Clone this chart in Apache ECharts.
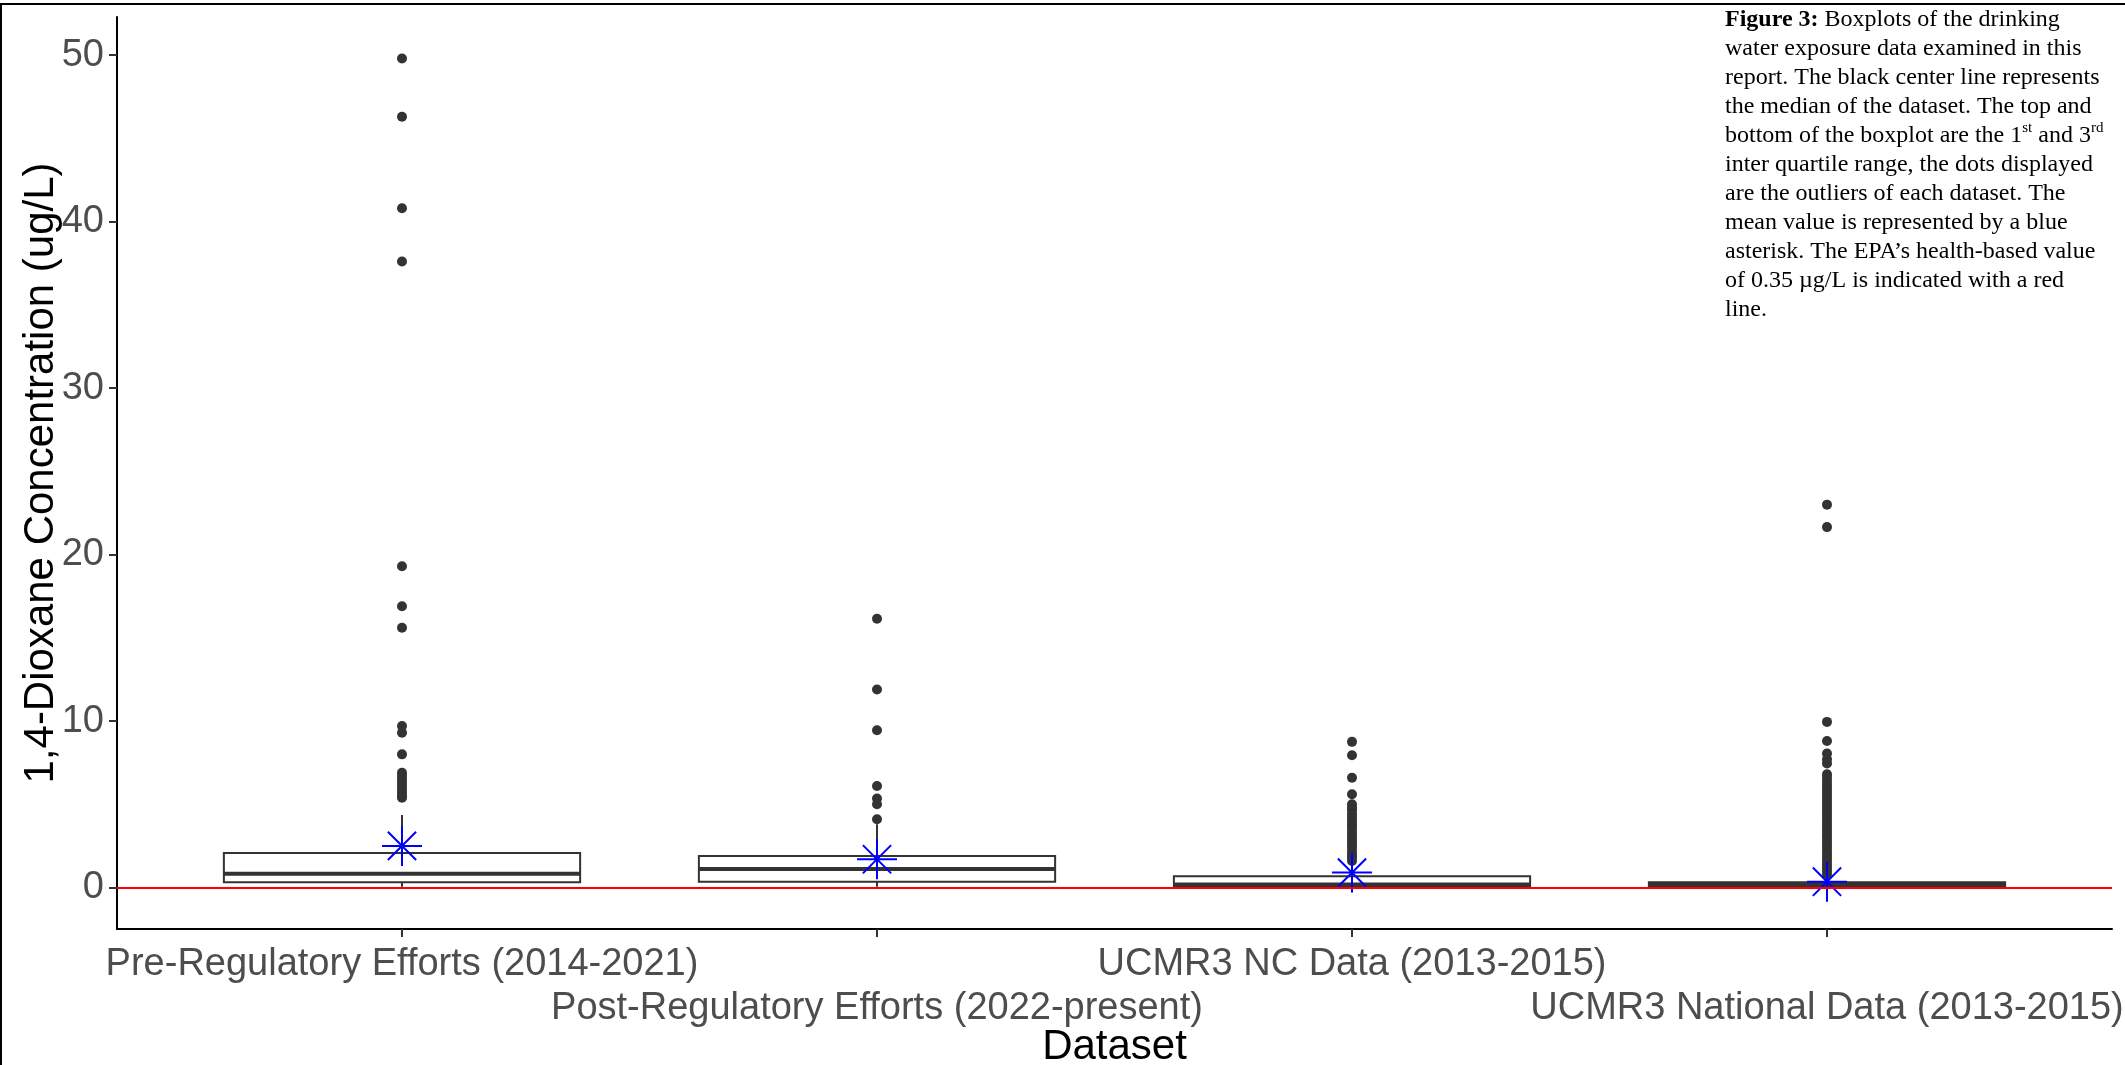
<!DOCTYPE html>
<html>
<head>
<meta charset="utf-8">
<script src="https://cdn.jsdelivr.net/npm/echarts@6/dist/echarts.min.js"></script>
<style>
  html, body { margin: 0; padding: 0; background: #fff; }
  #chart { width: 2125px; height: 1065px; }
</style>
</head>
<body>
<div id="chart"></div>
<script>
// ---------------- data ----------------
const categories = [
  'Pre-Regulatory Efforts (2014-2021)',
  'Post-Regulatory Efforts (2022-present)',
  'UCMR3 NC Data (2013-2015)',
  'UCMR3 National Data (2013-2015)'
];
const categoryPositions = [1, 2, 3, 4];
const firstRowPositions = [1, 3];
const secondRowPositions = [2, 4];
const whiskerLow  = [0.05, 0.05, 0.02, 0.02];
const q1Values    = [0.32, 0.35, 0.08, 0.05];
const medianValues = [0.83, 1.12, 0.18, 0.15];
const q3Values    = [2.07, 1.89, 0.68, 0.32];
const whiskerHigh = [4.35, 3.8, 1.55, 0.7];
const meanValues  = [2.5, 1.7, 0.9, 0.35];

const outliersPre = [49.8, 46.3, 40.8, 37.6, 19.3, 16.9, 15.6, 9.7, 9.3, 8.0,
  6.9, 6.7, 6.5, 6.3, 6.1, 5.9, 5.7, 5.5, 5.4];
const outliersPost = [16.15, 11.9, 9.45, 6.1, 5.35, 5.0, 4.1];
const outliersNC = [8.75, 7.95, 6.6, 5.6, 5.0, 4.8, 4.65, 4.4, 4.2, 4.0, 3.8, 3.62,
  3.4, 3.2, 3.0, 2.8, 2.6, 2.42, 2.2, 2.0, 1.8, 1.6];
const outliersNational = [23.0, 21.65, 9.95, 8.8, 8.05, 7.7, 7.45, 6.8, 6.62, 6.4,
  6.2, 6.0, 5.8, 5.6, 5.4, 5.2, 5.0, 4.8, 4.6, 4.4, 4.2, 4.0, 3.8, 3.6, 3.4, 3.2,
  3.0, 2.8, 2.6, 2.4, 2.2, 2.0, 1.8, 1.6, 1.4, 1.2, 1.0, 0.8];
const outlierGroups = [outliersPre, outliersPost, outliersNC, outliersNational];

const yTickValues = [0, 10, 20, 30, 40, 50];
const redLineValue = 0;

const captionLines = [
  '{b|Figure 3:} Boxplots of the drinking',
  'water exposure data examined in this',
  'report. The black center line represents',
  'the median of the dataset. The top and',
  'bottom of the boxplot are the 1{sup|st} and 3{sup|rd}',
  'inter quartile range, the dots displayed',
  'are the outliers of each dataset. The',
  'mean value is represented by a blue',
  'asterisk. The EPA\u2019s health-based value',
  'of 0.35 \u00b5g/L is indicated with a red',
  'line.'
];

// ---------------- build ----------------
const boxData = categoryPositions.map((x, i) =>
  [x, whiskerLow[i], q1Values[i], medianValues[i], q3Values[i], whiskerHigh[i]]);
const outlierData = [];
outlierGroups.forEach((arr, i) => arr.forEach(v => outlierData.push([categoryPositions[i], v])));
const meanData = categoryPositions.map((x, i) => [x, meanValues[i]]);

const BOX_HALF = 0.375;
const INK = '#333333';
const SANS = '"Liberation Sans", Arial, sans-serif';

function catLabel(v) {
  const i = categoryPositions.indexOf(Math.round(v));
  return i < 0 ? '' : categories[i];
}

function renderBox(params, api) {
  const x = api.value(0);
  const lo = api.value(1), a = api.value(2), m = api.value(3), b = api.value(4), hi = api.value(5);
  const cx = api.coord([x, 0])[0];
  const xl = api.coord([x - BOX_HALF, 0])[0];
  const xr = api.coord([x + BOX_HALF, 0])[0];
  const yLo = api.coord([x, lo])[1];
  const yQ1 = api.coord([x, a])[1];
  const yMed = api.coord([x, m])[1];
  const yQ3 = api.coord([x, b])[1];
  const yHi = api.coord([x, hi])[1];
  const st = { stroke: INK, lineWidth: 2 };
  return {
    type: 'group',
    children: [
      { type: 'line', shape: { x1: cx, y1: yHi, x2: cx, y2: yQ3 }, style: st },
      { type: 'line', shape: { x1: cx, y1: yLo, x2: cx, y2: yQ1 }, style: st },
      { type: 'rect', shape: { x: xl, y: yQ3, width: xr - xl, height: yQ1 - yQ3 },
        style: { fill: '#ffffff', stroke: INK, lineWidth: 2 } },
      { type: 'line', shape: { x1: xl, y1: yMed, x2: xr, y2: yMed },
        style: { stroke: INK, lineWidth: 4 } }
    ]
  };
}

const chart = echarts.init(document.getElementById('chart'), null, { renderer: 'canvas' });

const labelBase = {
  show: true,
  showMinLabel: true,
  showMaxLabel: true,
  hideOverlap: false,
  fontFamily: SANS,
  fontSize: 38,
  color: '#4D4D4D',
  formatter: catLabel
};

const option = {
  backgroundColor: '#ffffff',
  animation: false,
  grid: { left: 117, right: 13, top: 17, bottom: 136, containLabel: false, outerBoundsMode: 'none' },
  xAxis: [
    {
      type: 'value',
      min: 0.4,
      max: 4.6,
      position: 'bottom',
      name: 'Dataset',
      nameLocation: 'middle',
      nameGap: 97,
      nameMoveOverlap: false,
      nameTextStyle: { fontFamily: SANS, fontSize: 42, color: '#000000' },
      axisLine: { show: true, onZero: false, lineStyle: { color: '#000000', width: 2 } },
      axisTick: { show: true, length: 8, customValues: categoryPositions,
        lineStyle: { color: INK, width: 2 } },
      axisLabel: Object.assign({}, labelBase, { customValues: firstRowPositions, margin: 17 }),
      splitLine: { show: false }
    },
    {
      type: 'value',
      min: 0.4,
      max: 4.6,
      position: 'bottom',
      offset: 0,
      axisLine: { show: false, onZero: false },
      axisTick: { show: false },
      axisLabel: Object.assign({}, labelBase, { customValues: secondRowPositions, margin: 61 }),
      splitLine: { show: false }
    }
  ],
  yAxis: {
    type: 'value',
    min: -2.49,
    max: 52.29,
    name: '1,4-Dioxane Concentration (ug/L)',
    nameLocation: 'middle',
    nameRotate: 90,
    nameGap: 55,
    nameMoveOverlap: false,
    nameTextStyle: { fontFamily: SANS, fontSize: 42, color: '#000000' },
    axisLine: { show: true, onZero: false, lineStyle: { color: '#000000', width: 2 } },
    axisTick: { show: true, length: 8, customValues: yTickValues,
      lineStyle: { color: INK, width: 2 } },
    axisLabel: {
      show: true,
      customValues: yTickValues,
      showMinLabel: true,
      showMaxLabel: true,
      margin: 13,
      fontFamily: SANS,
      fontSize: 38,
      color: '#4D4D4D'
    },
    splitLine: { show: false }
  },
  series: [
    {
      type: 'custom',
      name: 'boxes',
      renderItem: renderBox,
      data: boxData,
      encode: { x: 0, y: [1, 2, 3, 4, 5] },
      z: 2,
      silent: true
    },
    {
      type: 'scatter',
      name: 'outliers',
      data: outlierData,
      symbol: 'circle',
      symbolSize: 10,
      itemStyle: { color: INK, opacity: 1 },
      z: 3,
      silent: true
    },
    {
      type: 'scatter',
      name: 'mean',
      data: meanData,
      symbol: 'path://M0,-20L0,20M-20,0L20,0M-14.14,-14.14L14.14,14.14M-14.14,14.14L14.14,-14.14',
      symbolSize: 40,
      symbolKeepAspect: true,
      itemStyle: { color: 'rgba(0,0,0,0)', borderColor: '#0000FF', borderWidth: 2, opacity: 1 },
      z: 4,
      silent: true
    },
    {
      type: 'line',
      name: 'health',
      data: [],
      z: 5,
      silent: true,
      markLine: {
        silent: true,
        symbol: ['none', 'none'],
        label: { show: false },
        lineStyle: { color: '#FF0000', width: 2, type: 'solid' },
        emphasis: { disabled: true },
        data: [{ yAxis: redLineValue }]
      }
    }
  ],
  graphic: [
    { type: 'line', shape: { x1: 0, y1: 4, x2: 2125, y2: 4 }, style: { stroke: '#000', lineWidth: 2 }, z: 10 },
    { type: 'line', shape: { x1: 1, y1: 4, x2: 1, y2: 1065 }, style: { stroke: '#000', lineWidth: 2 }, z: 10 },
    {
      type: 'text',
      x: 1725,
      y: 5,
      z: 10,
      style: {
        text: captionLines.join('\n'),
        fontFamily: '"Liberation Serif", "Times New Roman", serif',
        fontSize: 24,
        lineHeight: 29,
        fill: '#000000',
        rich: {
          b: { fontFamily: '"Liberation Serif", "Times New Roman", serif', fontSize: 24, fontWeight: 'bold', lineHeight: 29, fill: '#000' },
          sup: { fontFamily: '"Liberation Serif", "Times New Roman", serif', fontSize: 15, lineHeight: 29, verticalAlign: 'top', fill: '#000' }
        }
      }
    }
  ]
};

chart.setOption(option);
</script>
</body>
</html>
